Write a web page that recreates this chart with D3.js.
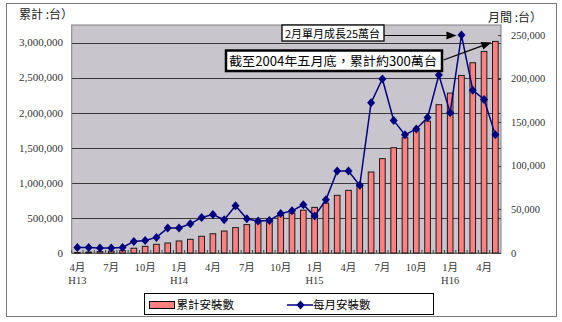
<!DOCTYPE html>
<html>
<head>
<meta charset="utf-8">
<script src="https://cdn.jsdelivr.net/npm/d3@7"></script>
<style>
  html, body { margin: 0; padding: 0; background: #fff; }
  svg { display: block; }
</style>
</head>
<body>
<svg id="chart" width="562" height="322"></svg>
<script>
// ---- data ----
const categories = [
  "2001-04","2001-05","2001-06","2001-07","2001-08","2001-09","2001-10","2001-11","2001-12",
  "2002-01","2002-02","2002-03","2002-04","2002-05","2002-06","2002-07","2002-08","2002-09",
  "2002-10","2002-11","2002-12","2003-01","2003-02","2003-03","2003-04","2003-05","2003-06",
  "2003-07","2003-08","2003-09","2003-10","2003-11","2003-12","2004-01","2004-02","2004-03",
  "2004-04","2004-05"
];
// cumulative installs (left axis)
const cumulative = [
  7000, 14000, 20000, 26000, 33000, 68000, 95000, 124000, 142000,
  171000, 195000, 238000, 274000, 313000, 362000, 405000, 442000, 490000,
  537000, 570000, 610000, 650000, 712000, 822000, 893000, 979000, 1154000,
  1345000, 1501000, 1644000, 1748000, 1880000, 2114000, 2279000, 2531000, 2712000,
  2873000, 3016000
];
// monthly installs (right axis)
const monthly = [
  6400, 6400, 5700, 5700, 6400, 13300, 14400, 17900, 28600,
  28600, 33500, 40800, 44200, 38100, 54200, 39300, 36600, 37300,
  45200, 48400, 55300, 42300, 61000, 94000, 94000, 77600, 172400,
  199600, 152000, 135500, 142300, 155300, 204200, 161000, 250000, 186800,
  176000, 135500
];
const leftTicks = [0, 500000, 1000000, 1500000, 2000000, 2500000, 3000000];
const rightTicks = [0, 50000, 100000, 150000, 200000, 250000];
const monthTickCats = ["2001-04","2001-07","2001-10","2002-01","2002-04","2002-07","2002-10",
                       "2003-01","2003-04","2003-07","2003-10","2004-01","2004-04"];
const monthTickLabels = ["4月","7月","10月","1月","4月","7月","10月","1月","4月","7月","10月","1月","4月"];
const yearTickCats = ["2001-04","2002-01","2003-01","2004-01"];
const yearTickLabels = ["H13","H14","H15","H16"];
const seriesNames = ["累計安裝數", "每月安裝數"];
const leftTitle = "累計 :台）";
const rightTitle = "月間 :台）";
const note1 = "2月單月成長25萬台";
const note2 = "截至2004年五月底，累計約300萬台";
const note1Cat = "2004-02";
const note2Cat = "2004-05";

// ---- layout ----
const plot = { left: 71.7, right: 501, top: 25, bottom: 253 };
const svg = d3.select("#chart");
const CJK = "'Noto Sans CJK TC','Noto Sans CJK SC',sans-serif";
const SERIF = "'Liberation Serif','Noto Sans CJK TC',serif";

const x = d3.scaleBand().domain(categories).range([plot.left, plot.right]).paddingInner(0.5).paddingOuter(0.25);
const xStep = x.step();
const xc = c => x(c) + x.bandwidth() / 2;
const yL = d3.scaleLinear().domain([0, 3250000]).range([plot.bottom, plot.top]);
const yR = d3.scaleLinear().domain([0, 261500]).range([plot.bottom, plot.top]);

// outer border
svg.append("rect").attr("x", 6.5).attr("y", 3.5).attr("width", 550).attr("height", 313)
  .attr("fill", "#fff").attr("stroke", "#7a7a7a").attr("stroke-width", 1);

// plot background
svg.append("rect").attr("x", plot.left).attr("y", plot.top)
  .attr("width", plot.right - plot.left).attr("height", plot.bottom - plot.top)
  .attr("fill", "#c9c5cd");

// gridlines
svg.append("g").selectAll("line").data(leftTicks).join("line")
  .attr("x1", plot.left).attr("x2", plot.right)
  .attr("y1", d => Math.round(yL(d)) + 0.5).attr("y2", d => Math.round(yL(d)) + 0.5)
  .attr("stroke", "#3a3a3a").attr("stroke-width", 1);

// plot border
svg.append("rect").attr("x", plot.left).attr("y", plot.top)
  .attr("width", plot.right - plot.left).attr("height", plot.bottom - plot.top)
  .attr("fill", "none").attr("stroke", "#808080").attr("stroke-width", 1);

// x axis ticks at category boundaries
svg.append("g").selectAll("line").data(categories).join("line")
  .attr("x1", d => x(d) - x.step() * x.paddingInner() / 2)
  .attr("x2", d => x(d) - x.step() * x.paddingInner() / 2)
  .attr("y1", plot.bottom).attr("y2", plot.bottom - 3)
  .attr("stroke", "#404040");

// right axis inside ticks
svg.append("g").selectAll("line").data(rightTicks).join("line")
  .attr("x1", plot.right - 3).attr("x2", plot.right)
  .attr("y1", d => Math.round(yR(d)) + 0.5).attr("y2", d => Math.round(yR(d)) + 0.5)
  .attr("stroke", "#404040");

// bars
svg.append("g").selectAll("rect").data(categories).join("rect")
  .attr("x", d => x(d))
  .attr("width", x.bandwidth())
  .attr("y", (d, i) => yL(cumulative[i]))
  .attr("height", (d, i) => plot.bottom - yL(cumulative[i]))
  .attr("fill", "#ff8080").attr("stroke", "#1a1a1a").attr("stroke-width", 1);

// line
const line = d3.line().x((d, i) => xc(categories[i])).y(d => yR(d));
svg.append("path").datum(monthly).attr("d", line)
  .attr("fill", "none").attr("stroke", "#000080").attr("stroke-width", 1.5);

const diamond = (cx, cy, w, h) => `M${cx},${cy - h}L${cx + w},${cy}L${cx},${cy + h}L${cx - w},${cy}Z`;
svg.append("g").selectAll("path").data(monthly).join("path")
  .attr("d", (d, i) => diamond(xc(categories[i]), yR(d), 4, 4.5))
  .attr("fill", "#000080");

// left axis labels
svg.append("g").selectAll("text").data(leftTicks).join("text")
  .attr("x", 63).attr("y", d => yL(d)).attr("dy", "0.35em")
  .attr("text-anchor", "end").attr("font-family", SERIF).attr("font-size", 11)
  .attr("fill", "#333").text(d => d3.format(",")(d));

// right axis labels
svg.append("g").selectAll("text").data(rightTicks).join("text")
  .attr("x", 511).attr("y", d => yR(d)).attr("dy", "0.35em")
  .attr("text-anchor", "start").attr("font-family", SERIF).attr("font-size", 10.5)
  .attr("fill", "#333").text(d => d3.format(",")(d));

// x labels
svg.append("g").selectAll("text").data(monthTickCats).join("text")
  .attr("x", d => xc(d)).attr("y", 271)
  .attr("text-anchor", "middle").attr("font-family", SERIF).attr("font-size", 10.5)
  .attr("fill", "#333").text((d, i) => monthTickLabels[i]);
svg.append("g").selectAll("text").data(yearTickCats).join("text")
  .attr("x", d => xc(d)).attr("y", 284)
  .attr("text-anchor", "middle").attr("font-family", SERIF).attr("font-size", 10.5)
  .attr("fill", "#333").text((d, i) => yearTickLabels[i]);

// axis titles
svg.append("text").attr("x", 19).attr("y", 19).attr("font-family", CJK).attr("font-size", 12)
  .attr("fill", "#222").text(leftTitle);
svg.append("text").attr("x", 488).attr("y", 22).attr("font-family", CJK).attr("font-size", 12)
  .attr("fill", "#222").text(rightTitle);

// annotations
function arrow(x1, y1, x2, y2) {
  const g = svg.append("g");
  const ang = Math.atan2(y2 - y1, x2 - x1);
  const L = 10, W = 4;
  const bx = x2 - L * Math.cos(ang), by = y2 - L * Math.sin(ang);
  g.append("line").attr("x1", x1).attr("y1", y1).attr("x2", bx).attr("y2", by)
    .attr("stroke", "#000").attr("stroke-width", 1.2);
  const px = -Math.sin(ang) * W, py = Math.cos(ang) * W;
  g.append("path").attr("d", `M${x2},${y2}L${bx + px},${by + py}L${bx - px},${by - py}Z`).attr("fill", "#000");
}
// note 1
const i1 = categories.indexOf(note1Cat);
svg.append("rect").attr("x", 282).attr("y", 25).attr("width", 102).attr("height", 16)
  .attr("fill", "#fff").attr("stroke", "#000").attr("stroke-width", 1.3);
svg.append("text").attr("x", 285).attr("y", 37.5).attr("font-family", CJK).attr("font-size", 11)
  .attr("textLength", 95).attr("lengthAdjust", "spacingAndGlyphs").attr("fill", "#000").text(note1);
arrow(384, 35.5, xc(note1Cat) - 5, yR(monthly[i1]) + 0.5);

// note 2
const i2 = categories.indexOf(note2Cat);
svg.append("rect").attr("x", 226).attr("y", 50.5).attr("width", 216).attr("height", 20.5)
  .attr("fill", "#fff").attr("stroke", "#000").attr("stroke-width", 2.5);
svg.append("text").attr("x", 229).attr("y", 65.5).attr("font-family", CJK).attr("font-size", 12.5)
  .attr("textLength", 208).attr("lengthAdjust", "spacingAndGlyphs").attr("fill", "#000").text(note2);
arrow(443.5, 60, xc(note2Cat) - 4, yL(cumulative[i2]) + 1);

// legend
const lg = svg.append("g");
lg.append("rect").attr("x", 144.5).attr("y", 293.5).attr("width", 289).attr("height", 21)
  .attr("fill", "#fff").attr("stroke", "#000").attr("stroke-width", 1);
lg.append("rect").attr("x", 149.5).attr("y", 301.5).attr("width", 25).attr("height", 7)
  .attr("fill", "#ff8080").attr("stroke", "#000").attr("stroke-width", 1);
lg.append("text").attr("x", 176.5).attr("y", 309).attr("font-family", CJK).attr("font-size", 11.5)
  .attr("fill", "#000").text(seriesNames[0]);
lg.append("line").attr("x1", 287).attr("x2", 313).attr("y1", 305).attr("y2", 305)
  .attr("stroke", "#000080").attr("stroke-width", 1.5);
lg.append("path").attr("d", diamond(300.5, 305, 4, 4.5)).attr("fill", "#000080");
lg.append("text").attr("x", 313).attr("y", 309).attr("font-family", CJK).attr("font-size", 11.5)
  .attr("fill", "#000").text(seriesNames[1]);
</script>
</body>
</html>
